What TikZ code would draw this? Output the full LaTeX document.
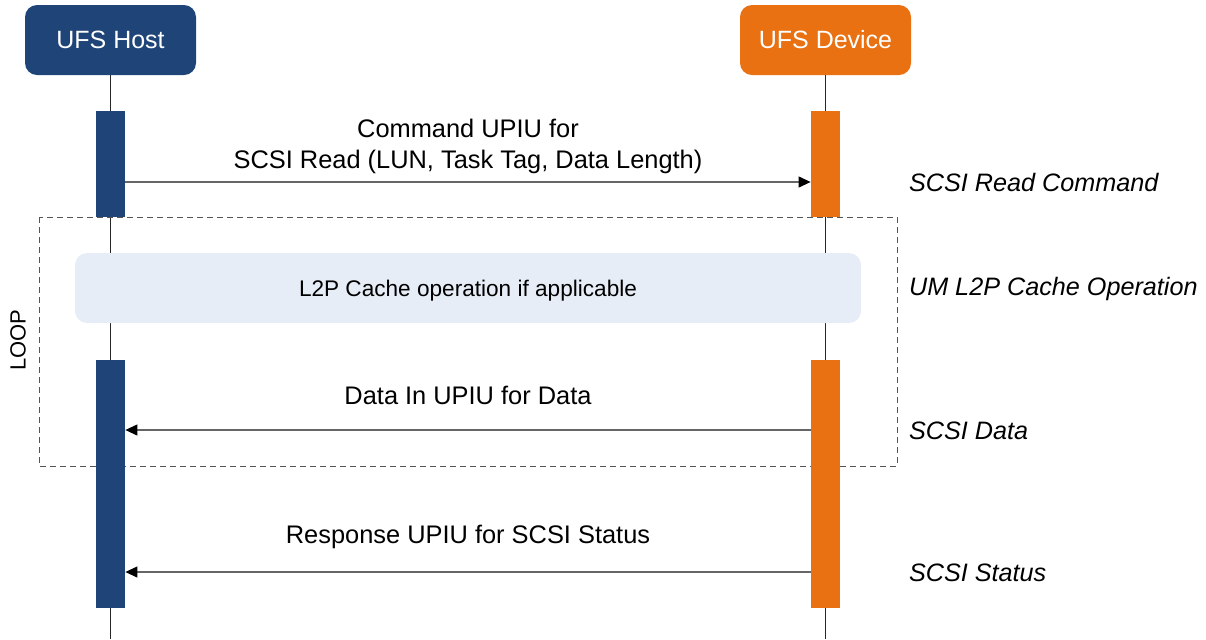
\documentclass[tikz,border=0pt]{standalone}
\usepackage{fontspec}
\setmainfont{Liberation Sans}
\usetikzlibrary{arrows.meta}

\definecolor{hostblue}{HTML}{1F4478}
\definecolor{deviceorange}{HTML}{E97112}
\definecolor{cachefill}{HTML}{E7EDF7}
\definecolor{loopgray}{HTML}{555555}

\begin{document}
\begin{tikzpicture}[
      x=0.5pt, y=-0.5pt,
      header/.style={rectangle, rounded corners=6pt, text=white, minimum width=85.5pt, minimum height=35pt, font=\fontsize{12.5}{15}\selectfont},
      lifeline/.style={draw=black!85, line width=0.65pt},
      bar/.style={rectangle, inner sep=0pt, minimum width=14.5pt},
      pointer/.style={draw=black!60, line width=0.6pt, -{Triangle[length=6pt,width=5.5pt,color=black]}},
      msg/.style={align=center, font=\fontsize{12.7}{15.5}\selectfont},
      phase/.style={anchor=west, font=\fontsize{12.6}{15}\selectfont\itshape},
      loopbox/.style={draw=loopgray, line width=0.5pt, dash pattern=on 3pt off 2pt},
      cache/.style={rectangle, rounded corners=6pt, fill=cachefill, minimum width=393pt, minimum height=35pt, text height=11pt, text depth=2.5pt, font=\fontsize{11.3}{13}\selectfont}
      ]

      \useasboundingbox (0,0) rectangle (1206,639);

      % participants
      \node[header, fill=hostblue] (host) at (110.5,40) {UFS Host};
      \node[header, fill=deviceorange] (device) at (825.5,40) {UFS Device};
      \coordinate (hostend) at (110.5,639);
      \coordinate (deviceend) at (825.5,639);

      % lifelines
      \path[lifeline] (host.south) -- (hostend);
      \path[lifeline] (device.south) -- (deviceend);

      % loop frame
      \draw[loopbox] (39,217) rectangle (897,466);
      \node[rotate=90, font=\fontsize{11}{13}\selectfont] (looplabel) at (18,340) {LOOP};

      % activation bars
      \node[bar, fill=hostblue, minimum height=53pt] (hostread) at (110.5,164) {};
      \node[bar, fill=deviceorange, minimum height=53pt] (devread) at (825.5,164) {};
      \node[bar, fill=hostblue, minimum height=124pt] (hostdata) at (110.5,484) {};
      \node[bar, fill=deviceorange, minimum height=124pt] (devdata) at (825.5,484) {};

      \node[cache] (cacheop) at (468,288) {L2P Cache operation if applicable};

      %messages
      \node[msg] (readlabel) at (468,146) {Command UPIU for\\SCSI Read (LUN, Task Tag, Data Length)};
      \path[pointer] ([yshift=-9pt]hostread.east) -- ([yshift=-9pt]devread.west);

      \node[msg] (datalabel) at (468,395) {Data In UPIU for Data};
      \path[pointer] ([yshift=27pt]devdata.west) -- ([yshift=27pt]hostdata.east);

      \node[msg] (statuslabel) at (468,537) {Response UPIU for SCSI Status};
      \path[pointer] ([yshift=-44pt]devdata.west) -- ([yshift=-44pt]hostdata.east);

      %phase labels
      \node[phase] (readphase) at (902,182) {SCSI Read Command};
      \node[phase] (cachephase) at (902,289) {UM L2P Cache Operation};
      \node[phase] (dataphase) at (902,431) {SCSI Data};
      \node[phase] (statusphase) at (902,573) {SCSI Status};
    \end{tikzpicture}
\end{document}
